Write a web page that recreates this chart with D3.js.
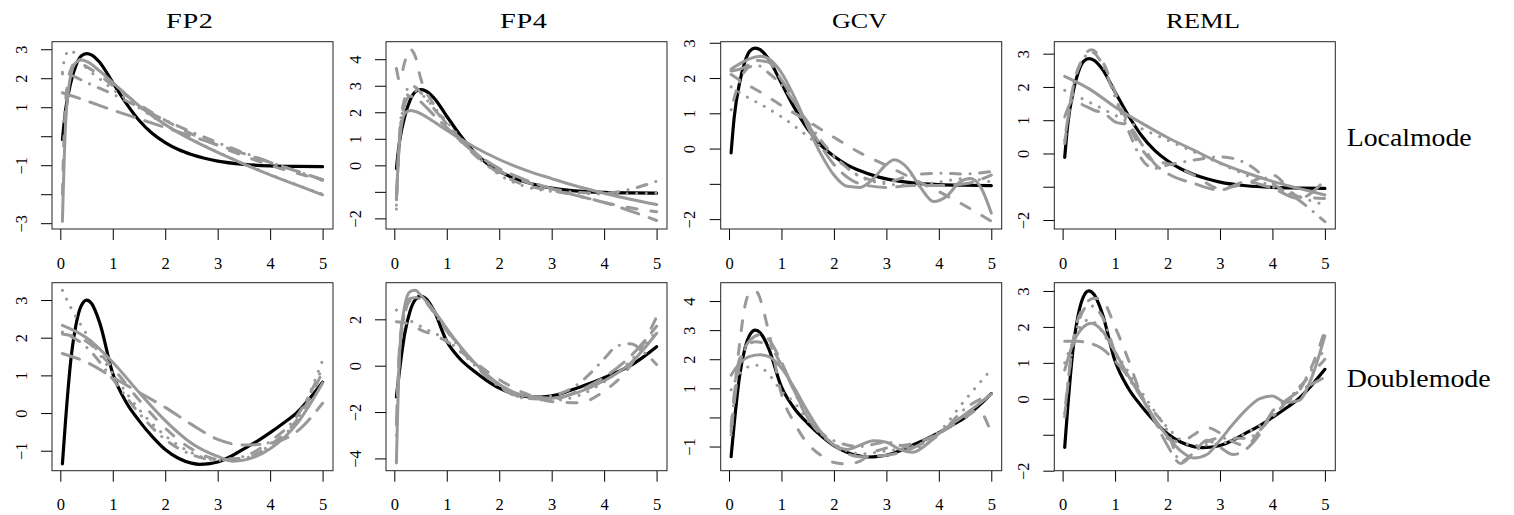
<!DOCTYPE html>
<html><head><meta charset="utf-8">
<script src="https://cdn.jsdelivr.net/npm/d3@7"></script>
<style>
body{margin:0;background:#fff}
svg{display:block}
text{font-family:"Liberation Serif","DejaVu Serif",serif;fill:#000}
</style>
</head><body>
<svg id="chart" width="1514" height="515"></svg>
<script>
// ---------------- data ----------------
const methods = ["FP2", "FP4", "GCV", "REML"];
const scenarios = ["Localmode", "Doublemode"];
const xTicks = [0, 1, 2, 3, 4, 5];
const xRange = [0.04, 5];

// y-axis: domain, tick values, labelled ticks (per row, per column)
const yDomains = [
  [[-3.2, 3.26], [-2.4, 4.66], [-2.28, 3.03], [-2.27, 3.36]],
  [[-1.53, 3.46], [-4.53, 3.58], [-1.83, 4.63], [-2.0, 3.23]]
];
const yTickValues = [
  [[-3,-2,-1,0,1,2,3], [-2,-1,0,1,2,3,4], [-2,-1,0,1,2,3], [-2,-1,0,1,2,3]],
  [[-1,0,1,2,3], [-4,-2,0,2], [-1,0,1,2,3,4], [-2,-1,0,1,2,3]]
];
const yTickLabels = [
  [[-3,-1,1,2,3], [-2,0,1,2,3,4], [-2,0,1,2,3], [-2,0,1,2,3]],
  [[-1,0,1,2,3], [-4,-2,0,2], [-1,1,2,3,4], [-2,0,1,2,3]]
];

// true functions
const localTruth = [[0.04,-0.12],[0.1,0.9],[0.2,1.85],[0.3,2.45],[0.4,2.77],[0.5,2.85],[0.6,2.8],[0.75,2.55],[1,1.85],[1.25,1.15],[1.5,0.55],[1.75,0.1],[2,-0.22],[2.25,-0.46],[2.5,-0.63],[2.75,-0.76],[3,-0.86],[3.5,-0.97],[4,-1.02],[4.5,-1.04],[5,-1.05]];
const doubleTruth = [[0.04,-1.35],[0.1,-0.2],[0.2,1.4],[0.3,2.35],[0.4,2.85],[0.5,3.0],[0.6,2.9],[0.75,2.4],[1,1.05],[1.25,0.3],[1.5,-0.2],[1.75,-0.62],[2,-0.97],[2.25,-1.2],[2.5,-1.33],[2.65,-1.36],[2.85,-1.34],[3,-1.3],[3.25,-1.15],[3.5,-0.95],[3.75,-0.75],[4,-0.52],[4.25,-0.27],[4.5,0.0],[4.75,0.38],[5,0.82]];

// estimates: solid, dashed, dotted, dotdash, longdash
const fp2Local = {
  solid:    [[0.04,-2.94],[0.1,0.4],[0.2,2.1],[0.3,2.55],[0.4,2.63],[0.5,2.58],[0.75,2.25],[1,1.85],[1.5,1.05],[2,0.4],[2.5,-0.12],[3,-0.56],[3.5,-0.96],[4,-1.33],[4.5,-1.68],[5,-2.02]],
  dashed:   [[0.04,-2.0],[0.1,1.2],[0.2,2.3],[0.3,2.55],[0.4,2.5],[0.5,2.4],[0.75,2.1],[1,1.75],[1.5,1.1],[2,0.55],[2.5,0.08],[3,-0.32],[3.5,-0.68],[4,-1.0],[4.5,-1.27],[5,-1.52]],
  dotted:   [[0.04,2.2],[0.1,2.8],[0.2,2.97],[0.3,2.8],[0.5,2.35],[0.75,1.98],[1,1.62],[1.5,0.98],[2,0.4],[2.5,-0.1],[3,-0.55],[3.5,-0.95],[4,-1.32],[4.5,-1.67],[5,-2.0]],
  dotdash:  [[0.04,2.15],[0.2,2.1],[0.5,1.85],[1,1.45],[1.5,1.0],[2,0.55],[2.5,0.15],[3,-0.22],[3.5,-0.57],[4,-0.9],[4.5,-1.2],[5,-1.5]],
  longdash: [[0.04,1.5],[0.5,1.22],[1,0.9],[1.5,0.6],[2,0.3],[2.5,0.0],[3,-0.3],[3.5,-0.6],[4,-0.9],[4.5,-1.2],[5,-1.5]]
};
const fp4Local = {
  solid:    [[0.04,-1.3],[0.1,0.9],[0.2,1.95],[0.3,2.07],[0.4,2.03],[0.5,1.95],[0.75,1.65],[1,1.32],[1.5,0.72],[2,0.22],[2.5,-0.18],[3,-0.5],[3.5,-0.8],[4,-1.05],[4.5,-1.28],[5,-1.48]],
  dashed:   [[0.04,3.65],[0.1,3.2],[0.2,3.9],[0.3,4.38],[0.4,4.1],[0.5,3.3],[0.75,2.3],[1,1.55],[1.5,0.45],[2,-0.3],[2.5,-0.75],[3,-0.95],[3.5,-1.15],[4,-1.4],[4.5,-1.6],[5,-1.75]],
  dotted:   [[0.04,-1.65],[0.1,1.0],[0.2,2.4],[0.3,2.75],[0.4,2.8],[0.5,2.7],[0.75,2.2],[1,1.65],[1.5,0.5],[2,-0.35],[2.5,-0.8],[3,-0.98],[3.5,-1.05],[4,-1.08],[4.5,-1.07],[5,-1.05]],
  dotdash:  [[0.04,-1.5],[0.1,1.2],[0.2,2.55],[0.3,3.0],[0.4,2.95],[0.5,2.75],[0.75,2.15],[1,1.55],[1.5,0.55],[2,-0.2],[2.5,-0.62],[3,-0.88],[3.5,-1.02],[4,-1.05],[4.5,-0.9],[5,-0.6]],
  longdash: [[0.04,-1.2],[0.1,1.0],[0.2,2.3],[0.3,2.6],[0.4,2.55],[0.5,2.4],[0.75,1.9],[1,1.42],[1.5,0.52],[2,-0.12],[2.5,-0.55],[3,-0.88],[3.5,-1.15],[4,-1.4],[4.5,-1.72],[5,-2.08]]
};
const gcvLocal = {
  solid:    [[0.04,2.25],[0.2,2.4],[0.4,2.55],[0.6,2.62],[0.75,2.55],[1,2.15],[1.25,1.45],[1.5,0.62],[1.75,-0.15],[2,-0.75],[2.25,-1.07],[2.5,-1.1],[2.75,-0.85],[3,-0.45],[3.15,-0.32],[3.4,-0.55],[3.65,-1.1],[3.9,-1.5],[4.15,-1.35],[4.4,-0.95],[4.6,-0.85],[4.8,-1.1],[5,-1.83]],
  dashed:   [[0.04,2.1],[0.3,1.85],[0.6,1.6],[1,1.22],[1.5,0.78],[2,0.32],[2.5,-0.12],[3,-0.48],[3.5,-0.85],[4,-1.22],[4.5,-1.62],[5,-2.06]],
  dotted:   [[0.04,1.75],[0.3,1.5],[0.67,1.2],[1,0.9],[1.5,0.35],[2,-0.25],[2.5,-0.8],[3,-1.0],[3.5,-1.05],[4,-0.95],[4.5,-0.85],[5,-0.95]],
  dotdash:  [[0.04,1.1],[0.2,1.9],[0.4,2.32],[0.55,2.35],[0.75,2.15],[1,1.8],[1.25,1.3],[1.5,0.75],[2,-0.2],[2.5,-0.78],[3,-0.95],[3.5,-0.75],[4,-0.7],[4.5,-0.72],[5,-0.65]],
  longdash: [[0.04,2.2],[0.3,2.3],[0.5,2.5],[0.75,2.45],[1,1.95],[1.5,0.7],[2,-0.45],[2.5,-1.0],[3,-1.1],[3.5,-1.05],[4,-1.05],[4.5,-1.0],[5,-0.75]]
};
const remlLocal = {
  solid:    [[0.04,2.32],[0.5,1.95],[1,1.4],[1.5,0.92],[2,0.48],[2.5,0.1],[3,-0.28],[3.5,-0.58],[4,-0.84],[4.5,-1.05],[5,-1.25]],
  dashed:   [[0.04,0.3],[0.2,2.0],[0.4,2.9],[0.55,3.12],[0.75,2.8],[1,1.85],[1.25,0.9],[1.5,0.15],[1.75,-0.25],[2,-0.3],[2.5,-0.65],[3,-1.05],[3.5,-0.9],[4,-0.65],[4.5,-1.3],[5,-1.35]],
  dotted:   [[0.04,1.9],[0.5,1.55],[1,1.15],[1.5,0.75],[2,0.4],[2.5,0.05],[3,-0.3],[3.5,-0.65],[4,-1.0],[4.5,-1.3],[5,-1.55]],
  dotdash:  [[0.04,0.4],[0.2,2.0],[0.4,2.85],[0.55,3.05],[0.75,2.7],[1,1.7],[1.25,0.7],[1.5,-0.15],[1.75,-0.45],[2,-0.35],[2.5,-0.2],[3,-0.1],[3.5,-0.3],[4,-0.9],[4.5,-1.4],[5,-2.05]],
  longdash: [[0.04,1.1],[0.2,1.6],[0.4,1.45],[0.6,1.3],[0.8,1.2],[1,0.95],[1.25,0.85],[1.5,0.3],[1.75,-0.3],[2,-0.6],[2.5,-0.9],[3,-1.1],[3.5,-0.85],[4,-1.05],[4.5,-1.35],[5,-0.8]]
};
const fp2Double = {
  solid:    [[0.04,2.33],[0.5,2.0],[1,1.35],[1.5,0.55],[2,-0.2],[2.5,-0.8],[3,-1.15],[3.3,-1.28],[3.5,-1.25],[4,-0.95],[4.5,-0.3],[5,0.8]],
  dashed:   [[0.04,2.1],[0.5,1.9],[1,1.2],[1.5,0.35],[2,-0.4],[2.5,-0.95],[3,-1.22],[3.5,-1.2],[4,-0.85],[4.5,-0.2],[5,1.1]],
  dotted:   [[0.04,3.26],[0.2,2.8],[0.5,2.1],[1,1.05],[1.5,0.1],[2,-0.6],[2.5,-1.05],[3,-1.25],[3.5,-1.2],[4,-0.85],[4.5,-0.2],[5,1.4]],
  dotdash:  [[0.04,2.15],[0.5,1.75],[1,0.9],[1.5,0.0],[2,-0.7],[2.5,-1.1],[3,-1.25],[3.5,-1.15],[4,-0.75],[4.5,-0.1],[5,1.2]],
  longdash: [[0.04,1.58],[0.5,1.35],[1,0.95],[1.5,0.55],[2,0.15],[2.5,-0.3],[3,-0.7],[3.5,-0.85],[4,-0.8],[4.5,-0.5],[5,0.26]]
};
const fp4Double = {
  solid:    [[0.04,-4.2],[0.1,0.5],[0.2,2.6],[0.3,3.2],[0.4,3.25],[0.5,3.05],[0.75,2.4],[1,1.6],[1.5,0.2],[2,-0.8],[2.5,-1.3],[3,-1.4],[3.5,-1.15],[4,-0.65],[4.5,0.1],[5,1.4]],
  dashed:   [[0.04,1.9],[0.2,1.85],[0.5,1.55],[1,1.05],[1.5,0.2],[2,-0.6],[2.5,-1.2],[3,-1.55],[3.5,-1.6],[4,-1.1],[4.5,0.0],[5,2.1]],
  dotted:   [[0.04,2.4],[0.2,2.1],[0.5,1.7],[1,1.1],[1.5,0.1],[2,-0.8],[2.5,-1.35],[3,-1.5],[3.5,-1.3],[4,-0.7],[4.5,0.2],[5,1.5]],
  dotdash:  [[0.04,-3.0],[0.1,0.5],[0.2,2.2],[0.3,2.8],[0.5,2.9],[0.75,2.3],[1,1.5],[1.5,0.1],[2,-0.9],[2.5,-1.4],[3,-1.3],[3.5,-0.8],[3.75,-0.3],[4,0.3],[4.25,0.85],[4.5,0.95],[4.75,0.6],[5,0.05]],
  longdash: [[0.04,-2.5],[0.1,0.8],[0.2,2.4],[0.3,2.9],[0.5,2.95],[0.75,2.35],[1,1.55],[1.5,0.15],[2,-0.85],[2.5,-1.4],[3,-1.45],[3.5,-1.1],[4,-0.5],[4.5,0.4],[5,1.7]]
};
const gcvDouble = {
  solid:    [[0.04,1.45],[0.2,1.85],[0.4,2.1],[0.6,2.15],[0.75,2.1],[1,1.7],[1.25,1.0],[1.5,0.2],[1.75,-0.5],[2,-0.95],[2.25,-1.1],[2.5,-0.95],[2.75,-0.8],[3,-0.85],[3.25,-1.1],[3.5,-1.2],[3.75,-0.95],[4,-0.55],[4.5,0.1],[5,0.8]],
  dashed:   [[0.04,-0.3],[0.2,2.5],[0.3,3.8],[0.4,4.3],[0.5,4.35],[0.75,3.0],[1,0.8],[1.25,-0.2],[1.5,-0.9],[1.75,-1.3],[2,-1.55],[2.25,-1.6],[2.5,-1.5],[2.75,-1.2],[3,-1.05],[3.5,-0.9],[4,-0.55],[4.5,0.0],[4.75,0.25],[5,-0.55]],
  dotted:   [[0.04,0.95],[0.2,1.5],[0.5,1.8],[0.75,1.5],[1,0.9],[1.25,0.5],[1.5,-0.1],[2,-0.9],[2.5,-1.25],[3,-1.15],[3.5,-1.0],[4,-0.5],[4.5,0.6],[5,1.65]],
  dotdash:  [[0.04,-0.6],[0.2,2.0],[0.5,2.6],[0.75,2.5],[1,1.8],[1.5,0.0],[2,-0.8],[2.5,-1.0],[3,-0.85],[3.5,-1.05],[4,-0.6],[4.5,0.3],[5,0.8]],
  longdash: [[0.04,-0.5],[0.2,1.8],[0.4,2.65],[0.6,2.85],[0.75,2.7],[1,1.9],[1.25,0.9],[1.5,0.0],[2,-0.95],[2.5,-1.35],[3,-1.3],[3.5,-1.05],[4,-0.55],[4.5,0.1],[5,0.8]]
};
const remlDouble = {
  solid:    [[0.04,0.8],[0.2,1.55],[0.4,2.0],[0.55,2.1],[0.75,1.9],[1,1.3],[1.25,0.65],[1.5,0.05],[1.75,-0.55],[2,-1.05],[2.25,-1.45],[2.5,-1.65],[2.75,-1.55],[3,-1.15],[3.25,-0.7],[3.5,-0.3],[3.75,0.0],[4,0.08],[4.25,-0.1],[4.5,-0.05],[4.75,0.6],[5,1.75]],
  dashed:   [[0.04,-0.5],[0.2,1.6],[0.4,2.55],[0.6,2.8],[0.75,2.75],[1,2.0],[1.25,1.1],[1.5,0.1],[1.75,-0.6],[2,-1.1],[2.25,-1.2],[2.5,-1.0],[2.75,-0.8],[3,-0.95],[3.25,-1.2],[3.5,-1.3],[3.75,-0.9],[4,-0.4],[4.25,-0.1],[4.5,0.2],[4.75,0.9],[5,1.9]],
  dotted:   [[0.04,1.0],[0.5,2.2],[1,1.3],[1.5,0.2],[2,-0.8],[2.5,-1.3],[3,-1.25],[3.5,-0.95],[4,-0.5],[4.5,0.3],[5,1.4]],
  dotdash:  [[0.04,-0.4],[0.2,1.5],[0.5,2.6],[0.75,2.3],[1,1.3],[1.5,0.05],[2,-0.9],[2.25,-1.75],[2.5,-1.5],[2.75,-1.2],[3,-1.1],[3.5,-1.1],[4,-0.5],[4.5,0.3],[5,1.1]],
  longdash: [[0.04,1.6],[0.3,1.6],[0.5,1.55],[0.75,1.4],[1,1.05],[1.5,0.1],[1.75,-0.6],[2,-1.3],[2.25,-1.8],[2.5,-1.5],[2.75,-1.15],[3,-1.35],[3.25,-1.55],[3.5,-1.4],[3.75,-1.0],[4,-0.35],[4.25,-0.05],[4.5,0.2],[5,0.6]]
};

const truths = [localTruth, doubleTruth];
const estimates = [
  [fp2Local, fp4Local, gcvLocal, remlLocal],
  [fp2Double, fp4Double, gcvDouble, remlDouble]
];

// ---------------- layout / style ----------------
const boxLeft = [52, 386, 720.7, 1054.3];
const boxWidth = 281;
const boxTop = [41.7, 282.7];
const boxHeight = [187.3, 188];
const titleCenters = [189.5, 523.5, 859.5, 1203];
const titleWidths = [47, 47, 55, 74];
const rowLabelBaselines = [145.7, 386.7];
const rowLabelWidths = [125, 144];
const grey = "#999999";
const styles = {
  solid: null,
  dashed: "10,14",
  dotted: "0.1,9.5",
  dotdash: "0.1,9.5,10,9.5",
  longdash: "18,11"
};

const svg = d3.select("#chart");
const fmt = v => (v < 0 ? "\u2212" + Math.abs(v) : String(v));
const expand = ([a, b]) => { const d = (b - a) * 0.04; return [a - d, b + d]; };

// text stretched horizontally to the measured width (wide serif look)
function stretchedText(str, x, yBase, size, width, anchor) {
  const t = svg.append("text").attr("font-size", size).attr("x", 0).attr("y", 0).text(str);
  const natural = t.node().getComputedTextLength();
  const sx = Math.max(1, Math.min(1.35, width / natural));
  const extra = Math.max(0, width - natural * sx);
  if (extra > 0) t.attr("textLength", natural + extra / sx).attr("lengthAdjust", "spacing");
  const x0 = anchor === "middle" ? x - width / 2 : x;
  t.attr("transform", `translate(${x0},${yBase}) scale(${sx},1)`);
  return t;
}

methods.forEach((m, c) => stretchedText(m, titleCenters[c], 28.3, 21, titleWidths[c], "middle"));
scenarios.forEach((s, r) => stretchedText(s, 1346.7, rowLabelBaselines[r], 25, rowLabelWidths[r], "start"));

for (let r = 0; r < 2; r++) {
  for (let c = 0; c < 4; c++) {
    const L = boxLeft[c], T = boxTop[r], Wd = boxWidth, Ht = boxHeight[r];
    const x = d3.scaleLinear().domain(expand(xRange)).range([L, L + Wd]);
    const y = d3.scaleLinear().domain(yDomains[r][c]).range([T + Ht, T]);
    const g = svg.append("g");
    const clipId = `clip${r}${c}`;
    g.append("clipPath").attr("id", clipId)
      .append("rect").attr("x", L).attr("y", T).attr("width", Wd).attr("height", Ht);

    const line = d3.line().x(d => x(d[0])).y(d => y(d[1])).curve(d3.curveMonotoneX);
    const plot = g.append("g").attr("clip-path", `url(#${clipId})`);

    plot.append("path")
      .attr("d", line(truths[r]))
      .attr("fill", "none").attr("stroke", "#000").attr("stroke-width", 3.2)
      .attr("stroke-linecap", "round").attr("stroke-linejoin", "round");

    const est = estimates[r][c];
    Object.keys(styles).forEach(k => {
      plot.append("path")
        .attr("d", line(est[k]))
        .attr("fill", "none").attr("stroke", grey).attr("stroke-width", 3)
        .attr("stroke-linecap", "round").attr("stroke-linejoin", "round")
        .attr("stroke-dasharray", styles[k]);
    });

    // x axis
    const xa = g.append("g").attr("transform", `translate(0,${T + Ht})`)
      .call(d3.axisBottom(x).tickValues(xTicks).tickSize(11).tickFormat(fmt));
    xa.select(".domain").remove();
    xa.selectAll("line").attr("stroke", "#000");
    xa.selectAll("text").attr("y", 39.5).attr("dy", 0)
      .attr("font-size", 16.5).attr("font-family", "Liberation Serif, serif").attr("fill", "#000");

    // y axis
    const labelled = yTickLabels[r][c];
    const ya = g.append("g").attr("transform", `translate(${L},0)`)
      .call(d3.axisLeft(y).tickValues(yTickValues[r][c]).tickSize(11)
        .tickFormat(v => labelled.includes(v) ? fmt(v) : ""));
    ya.select(".domain").remove();
    ya.selectAll("line").attr("stroke", "#000");
    ya.selectAll("text")
      .attr("x", null).attr("dy", null)
      .attr("transform", "translate(-25.5,0) rotate(-90)")
      .attr("text-anchor", "middle")
      .attr("font-size", 16.5).attr("font-family", "Liberation Serif, serif").attr("fill", "#000");

    g.append("rect").attr("x", L).attr("y", T).attr("width", Wd).attr("height", Ht)
      .attr("fill", "none").attr("stroke", "#222").attr("stroke-width", 1);
  }
}
</script>
</body></html>
